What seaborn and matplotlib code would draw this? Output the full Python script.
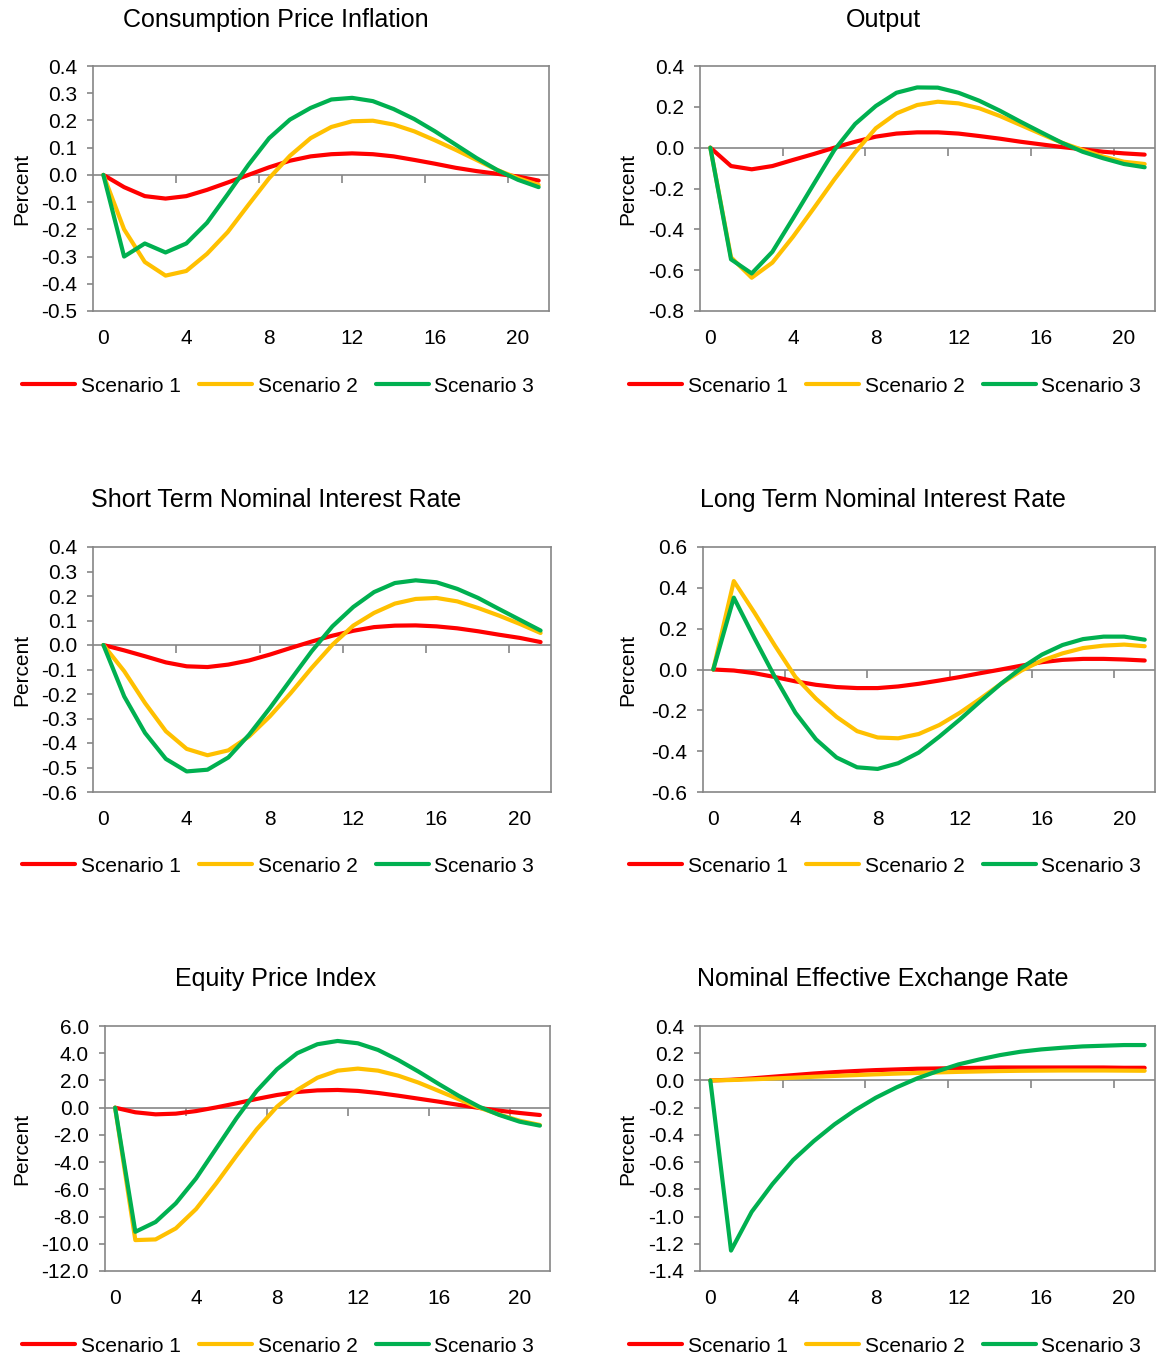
import numpy as np
import pandas as pd
import matplotlib
matplotlib.use("Agg")
import matplotlib.pyplot as plt
from matplotlib.ticker import FuncFormatter
import seaborn as sns

# ---------------------------------------------------------------
# Data (quarters 0..21)
# ---------------------------------------------------------------
quarters = list(range(22))
scenarios = ["Scenario 1", "Scenario 2", "Scenario 3"]

cpi_s1 = [0, -0.045, -0.078, -0.087, -0.078, -0.055, -0.028, 0.0, 0.028, 0.052, 0.068,
          0.076, 0.079, 0.076, 0.068, 0.055, 0.041, 0.026, 0.014, 0.004, -0.006, -0.021]
cpi_s2 = [0, -0.20, -0.32, -0.37, -0.353, -0.29, -0.21, -0.11, -0.012, 0.07, 0.135,
          0.176, 0.197, 0.199, 0.185, 0.16, 0.127, 0.092, 0.055, 0.018, -0.012, -0.037]
cpi_s3 = [0, -0.30, -0.252, -0.285, -0.252, -0.176, -0.071, 0.037, 0.135, 0.203, 0.246,
          0.277, 0.283, 0.271, 0.242, 0.205, 0.16, 0.111, 0.062, 0.018, -0.018, -0.045]

out_s1 = [0, -0.09, -0.106, -0.09, -0.06, -0.031, 0.0, 0.029, 0.054, 0.069, 0.075,
          0.075, 0.069, 0.057, 0.044, 0.029, 0.016, 0.003, -0.008, -0.02, -0.028, -0.034]
out_s2 = [0, -0.537, -0.637, -0.563, -0.436, -0.297, -0.155, -0.023, 0.095, 0.168, 0.209,
          0.225, 0.217, 0.193, 0.155, 0.111, 0.067, 0.024, -0.011, -0.044, -0.069, -0.08]
out_s3 = [0, -0.547, -0.616, -0.51, -0.346, -0.178, -0.011, 0.116, 0.204, 0.269, 0.295,
          0.294, 0.269, 0.23, 0.181, 0.127, 0.075, 0.024, -0.02, -0.052, -0.08, -0.096]

sr_s1 = [0, -0.022, -0.046, -0.071, -0.087, -0.09, -0.08, -0.063, -0.039, -0.012, 0.014,
         0.038, 0.058, 0.073, 0.079, 0.08, 0.076, 0.068, 0.056, 0.042, 0.029, 0.012]
sr_s2 = [0, -0.107, -0.237, -0.352, -0.424, -0.45, -0.43, -0.373, -0.291, -0.196, -0.094,
         0.001, 0.079, 0.131, 0.169, 0.188, 0.192, 0.178, 0.151, 0.12, 0.086, 0.049]
sr_s3 = [0, -0.21, -0.359, -0.465, -0.516, -0.509, -0.459, -0.366, -0.257, -0.141, -0.026,
         0.076, 0.155, 0.216, 0.253, 0.264, 0.256, 0.229, 0.192, 0.147, 0.103, 0.059]

lr_s1 = [0, -0.005, -0.018, -0.037, -0.058, -0.075, -0.086, -0.091, -0.091, -0.083, -0.07,
         -0.054, -0.037, -0.018, 0.0, 0.019, 0.036, 0.047, 0.052, 0.052, 0.049, 0.044]
lr_s2 = [0, 0.433, 0.279, 0.117, -0.037, -0.143, -0.232, -0.302, -0.333, -0.337, -0.316,
         -0.272, -0.212, -0.143, -0.07, -0.005, 0.044, 0.079, 0.105, 0.117, 0.122, 0.114]
lr_s3 = [0, 0.352, 0.154, -0.037, -0.212, -0.342, -0.431, -0.479, -0.487, -0.459, -0.407,
         -0.329, -0.245, -0.156, -0.07, 0.008, 0.073, 0.12, 0.149, 0.161, 0.161, 0.146]

eq_s1 = [0, -0.34, -0.49, -0.44, -0.25, 0.02, 0.32, 0.64, 0.93, 1.15, 1.27,
         1.3, 1.23, 1.08, 0.88, 0.66, 0.44, 0.2, -0.02, -0.22, -0.39, -0.54]
eq_s2 = [0, -9.73, -9.68, -8.87, -7.45, -5.56, -3.53, -1.59, 0.07, 1.3, 2.2,
         2.72, 2.87, 2.72, 2.35, 1.84, 1.23, 0.61, 0.0, -0.51, -0.96, -1.27]
eq_s3 = [0, -9.12, -8.4, -7.03, -5.2, -2.99, -0.78, 1.23, 2.82, 4.0, 4.66,
         4.9, 4.73, 4.24, 3.5, 2.65, 1.74, 0.86, 0.07, -0.54, -1.03, -1.32]

fx_s1 = [0, 0.005, 0.015, 0.027, 0.039, 0.051, 0.061, 0.069, 0.076, 0.081, 0.086,
         0.088, 0.091, 0.093, 0.095, 0.095, 0.095, 0.095, 0.095, 0.095, 0.093, 0.093]
fx_s2 = [0, 0.003, 0.008, 0.014, 0.02, 0.027, 0.033, 0.039, 0.045, 0.05, 0.055,
         0.059, 0.063, 0.066, 0.069, 0.071, 0.072, 0.073, 0.073, 0.073, 0.072, 0.071]
fx_s3 = [0, -1.25, -0.965, -0.762, -0.585, -0.446, -0.323, -0.218, -0.127, -0.051, 0.015,
         0.069, 0.118, 0.154, 0.186, 0.211, 0.228, 0.24, 0.25, 0.255, 0.26, 0.26]

titles = ["Consumption Price Inflation", "Output",
          "Short Term Nominal Interest Rate", "Long Term Nominal Interest Rate",
          "Equity Price Index", "Nominal Effective Exchange Rate"]
series = [(cpi_s1, cpi_s2, cpi_s3), (out_s1, out_s2, out_s3),
          (sr_s1, sr_s2, sr_s3), (lr_s1, lr_s2, lr_s3),
          (eq_s1, eq_s2, eq_s3), (fx_s1, fx_s2, fx_s3)]
y_limits = [(-0.5, 0.4), (-0.8, 0.4), (-0.6, 0.4), (-0.6, 0.6), (-12.0, 6.0), (-1.4, 0.4)]
y_steps = [0.1, 0.2, 0.1, 0.2, 2.0, 0.2]
x_ticks = [0, 4, 8, 12, 16, 20]

colors = ["#FF0000", "#FFC000", "#00B050"]

# ---------------------------------------------------------------
# Style
# ---------------------------------------------------------------
sns.set_style("white")
plt.rcParams['font.family'] = ['Liberation Sans', 'DejaVu Sans']
plt.rcParams['axes.unicode_minus'] = False
plt.rcParams['text.color'] = 'black'
plt.rcParams['axes.labelcolor'] = 'black'

W, H = 1156, 1359
fig = plt.figure(figsize=(W / 100, H / 100), dpi=100)

# panel boxes in pixels: left, top, right, bottom
boxes = [(93, 66, 549, 311), (700, 66, 1155, 311),
         (93, 547, 551, 792), (703, 547, 1155, 792),
         (105, 1026, 550, 1271), (700, 1026, 1155, 1271)]
title_x = [276, 883]
title_y = [20, 500, 979]
legend_y = [386, 866, 1346]
frame_col = "#868686"

one_dec = FuncFormatter(lambda v, p: f"{round(v, 6) + 0.0:.1f}")

for i, (title, vals) in enumerate(zip(titles, series)):
    l, t, r, b = boxes[i]
    ax = fig.add_axes([l / W, 1 - b / H, (r - l) / W, (b - t) / H])

    df = pd.DataFrame({
        "quarter": quarters * 3,
        "value": list(vals[0]) + list(vals[1]) + list(vals[2]),
        "scenario": [s for s in scenarios for _ in quarters],
    })
    sns.lineplot(data=df, x="quarter", y="value", hue="scenario",
                 palette=colors, linewidth=3, ax=ax, legend=True, zorder=3)

    lo, hi = y_limits[i]
    ax.set_ylim(lo, hi)
    ax.set_yticks(np.round(np.arange(lo, hi + y_steps[i] / 2, y_steps[i]), 2))
    ax.yaxis.set_major_formatter(one_dec)
    ax.set_xlim(-0.5, 21.5)
    ax.set_xticks(x_ticks)

    ax.tick_params(axis='y', which='major', direction='out', length=4.5, width=1.2,
                   color=frame_col, labelcolor='black', labelsize=15, pad=7, left=True)
    ax.tick_params(axis='x', length=0, labelsize=15, pad=13, labelcolor='black')
    for sp in ax.spines.values():
        sp.set_color(frame_col)
        sp.set_linewidth(1.2)

    # horizontal category axis line at zero with tick marks between categories
    ax.axhline(0, color=frame_col, linewidth=1.2, zorder=2)
    ax.plot([3.5, 7.5, 11.5, 15.5, 19.5], [0] * 5, linestyle='none', marker=3,
            markersize=6, markeredgewidth=1.2, color=frame_col, zorder=2)

    ax.set_xlabel("")
    ax.set_ylabel("Percent", fontsize=15)
    ax.yaxis.set_label_coords((31 if i % 2 == 0 else 637) / W, 1 - ((t + b) / 2) / H,
                              transform=fig.transFigure)

    fig.text(title_x[i % 2] / W, 1 - title_y[i // 2] / H, title, fontsize=18,
             ha='center', va='center')

    handles, labels = ax.get_legend_handles_labels()
    ax.legend(handles, labels, loc='center', ncol=3, frameon=False,
              bbox_to_anchor=(title_x[i % 2] / W + 0.002, 1 - legend_y[i // 2] / H),
              bbox_transform=fig.transFigure, fontsize=15, handlelength=2.55,
              handletextpad=0.25, columnspacing=0.9)

fig.savefig("out.png", dpi=100)
